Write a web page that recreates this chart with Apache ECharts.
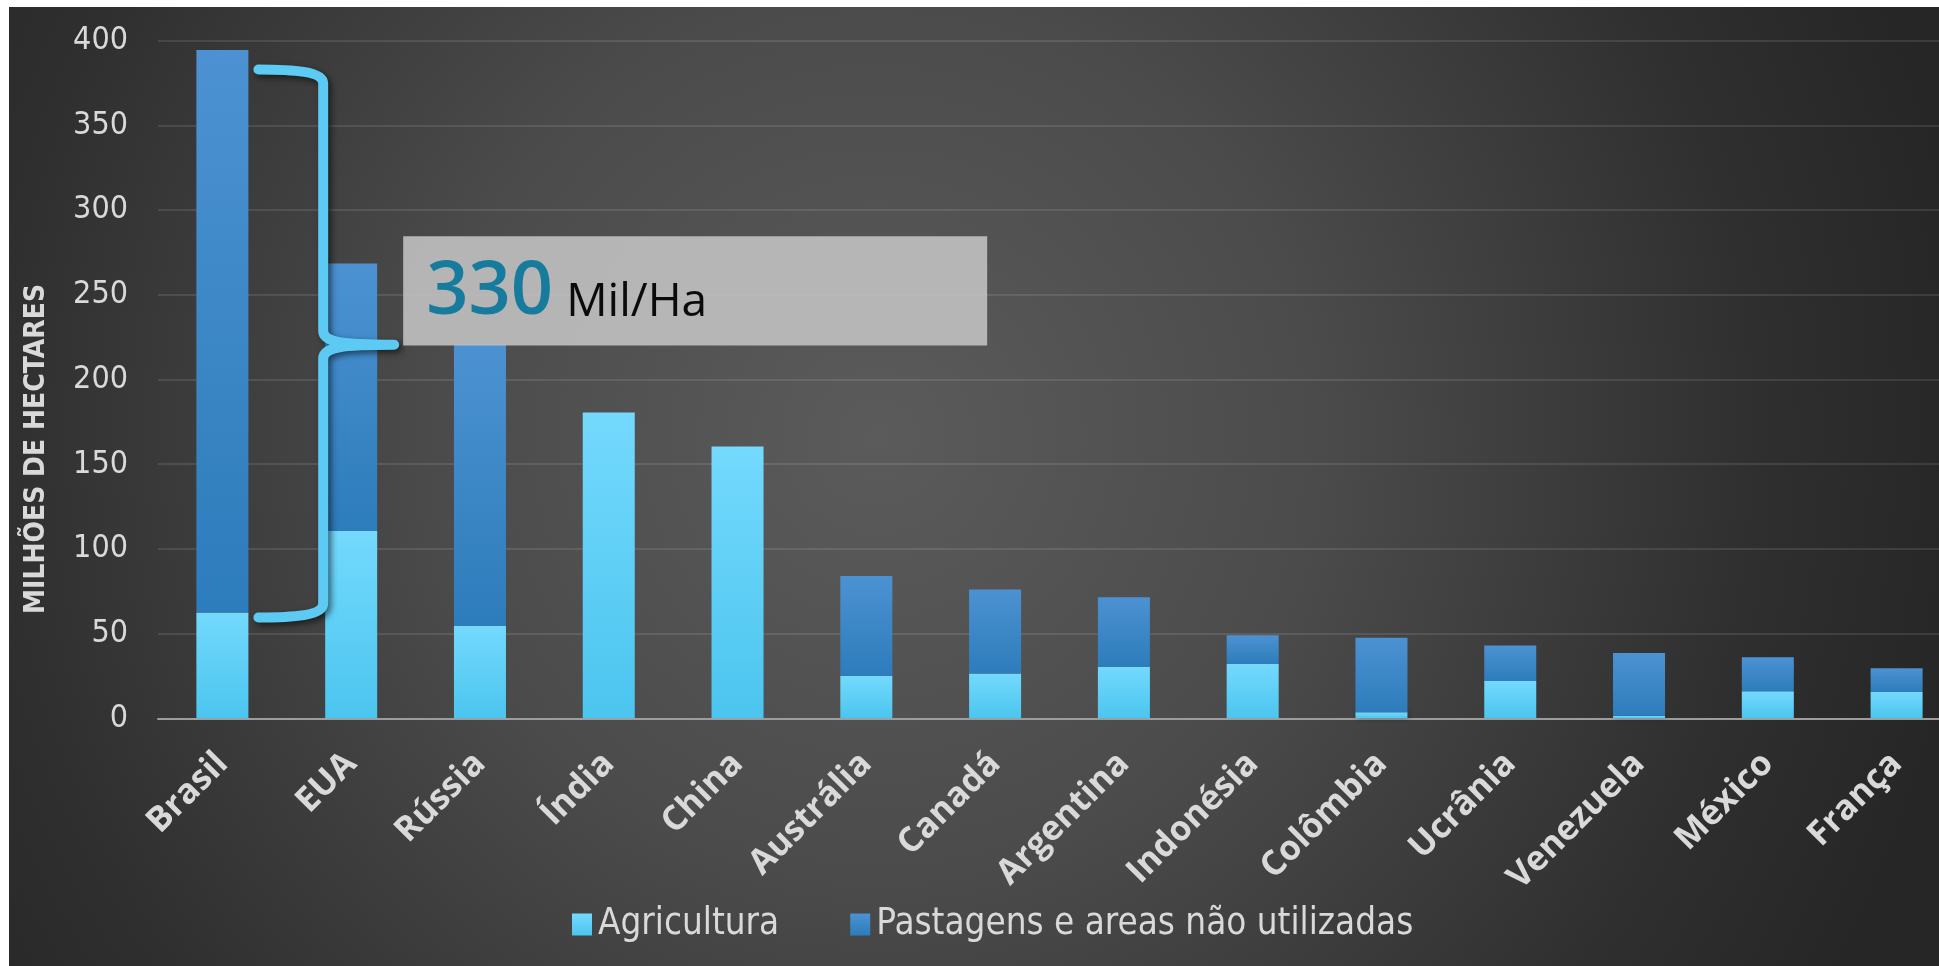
<!DOCTYPE html>
<html>
<head>
<meta charset="utf-8">
<script src="https://cdn.jsdelivr.net/npm/echarts@6/dist/echarts.min.js"></script>
<style>
  html, body { margin: 0; padding: 0; background: #fff; }
  #main { width: 1939px; height: 966px; }
</style>
</head>
<body>
<div id="main"></div>
<script>
// data (millions of hectares)
var categories = ['Brasil', 'EUA', 'Rússia', 'Índia', 'China', 'Austrália', 'Canadá',
  'Argentina', 'Indonésia', 'Colômbia', 'Ucrânia', 'Venezuela', 'México', 'França']
var agricultura = [62.5, 110.5, 54.5, 180.5, 160.5, 25, 26.5, 30.5, 32, 3.5, 22, 1.5, 16, 15.5]
var pastagens = [332, 158, 166, 0, 0, 59, 49.5, 41, 17, 44, 21, 37, 20, 14]
var seriesNames = ['Agricultura', 'Pastagens e areas não utilizadas']
var yTicks = [0, 50, 100, 150, 200, 250, 300, 350, 400]

var narrow = '"Liberation Sans Narrow", "DejaVu Sans Condensed", "Open Sans", sans-serif'
var textGrey = '#d9d9d9'

// curly brace shape for the annotation
var Brace = echarts.graphic.extendShape({
  shape: { tip: 0, v: 0, pt: 0, top: 0, mid: 0, bot: 0 },
  buildPath: function(ctx, s) {
    ctx.moveTo(s.tip, s.top)
    ctx.bezierCurveTo(s.v - 30, s.top, s.v, s.top + 2, s.v, s.top + 14)
    ctx.lineTo(s.v, s.mid - 14)
    ctx.bezierCurveTo(s.v, s.mid - 2, s.v + 20, s.mid, s.pt, s.mid)
    ctx.bezierCurveTo(s.v + 20, s.mid, s.v, s.mid + 2, s.v, s.mid + 14)
    ctx.lineTo(s.v, s.bot - 14)
    ctx.bezierCurveTo(s.v, s.bot - 2, s.v - 30, s.bot, s.tip, s.bot)
  }
})
echarts.graphic.registerShape('brace', Brace)

var chart = echarts.init(document.getElementById('main'))

var agriColor = new echarts.graphic.LinearGradient(0, 0, 0, 1, [
  { offset: 0, color: '#74d9fd' },
  { offset: 1, color: '#4bc5ef' }
])
var pastColor = new echarts.graphic.LinearGradient(0, 0, 0, 1, [
  { offset: 0, color: '#4c92d2' },
  { offset: 1, color: '#2d7cbb' }
])

var option = {
  animation: false,
  backgroundColor: '#ffffff',
  grid: {
    left: 158,
    width: 1803,
    top: 40.7,
    bottom: 247.7,
    outerBoundsMode: 'none',
    containLabel: false
  },
  legend: {
    data: seriesNames,
    left: 572,
    top: 906,
    padding: 0,
    itemWidth: 20,
    itemHeight: 22,
    itemGap: 71,
    icon: 'rect',
    textStyle: {
      color: textGrey,
      fontSize: 36.5,
      lineHeight: 36,
      fontFamily: narrow,
      padding: [0, 0, 0, 1]
    }
  },
  xAxis: {
    type: 'category',
    data: categories,
    axisTick: { show: false },
    axisLine: {
      lineStyle: { color: '#9d9d9d', width: 2 }
    },
    axisLabel: {
      interval: 0,
      rotate: 45,
      margin: 40,
      color: textGrey,
      fontSize: 34.5,
      fontWeight: 'bold',
      fontFamily: '"Open Sans", sans-serif'
    }
  },
  yAxis: {
    type: 'value',
    min: yTicks[0],
    max: yTicks[yTicks.length - 1],
    interval: 50,
    axisTick: { show: false },
    axisLine: { show: false },
    axisLabel: {
      margin: 30,
      color: textGrey,
      fontSize: 32,
      fontFamily: narrow
    },
    splitLine: {
      lineStyle: { color: 'rgba(255,255,255,0.1)', width: 2 }
    }
  },
  series: [{
    name: seriesNames[0],
    type: 'bar',
    stack: 'total',
    barWidth: 52,
    data: agricultura,
    itemStyle: {
      color: agriColor,
      shadowBlur: 6,
      shadowOffsetX: 2,
      shadowColor: 'rgba(0,0,0,0.35)'
    }
  }, {
    name: seriesNames[1],
    type: 'bar',
    stack: 'total',
    barWidth: 52,
    data: pastagens,
    itemStyle: {
      color: pastColor,
      shadowBlur: 6,
      shadowOffsetX: 2,
      shadowColor: 'rgba(0,0,0,0.35)'
    }
  }],
  graphic: [{
    id: 'panel',
    type: 'rect',
    z: -100,
    silent: true,
    shape: { x: 9, y: 7, width: 1930, height: 959 },
    style: {
      fill: new echarts.graphic.RadialGradient(0.45, 0.45, 1.15, [
        { offset: 0, color: '#5b5b5b' },
        { offset: 0.4, color: '#4b4b4b' },
        { offset: 0.8, color: '#2f2f2f' },
        { offset: 1, color: '#262626' }
      ])
    }
  }, {
    id: 'yname',
    type: 'text',
    x: 37,
    y: 449,
    rotation: Math.PI / 2,
    style: {
      text: 'MILHÕES DE HECTARES',
      fill: textGrey,
      font: 'bold 28px ' + narrow,
      align: 'center',
      verticalAlign: 'middle'
    }
  }]
}
chart.setOption(option)

// brace + callout box placed from the axes
var yPx = function(v) { return chart.convertToPixel({ yAxisIndex: 0 }, v) }
var xPx = function(c) { return chart.convertToPixel({ xAxisIndex: 0 }, c) }

var bPt = xPx('EUA') + 43
var boxTop = yPx(284.5)
var boxBot = yPx(220)

chart.setOption({
  graphic: [{
    id: 'brace',
    type: 'brace',
    z: 100,
    silent: true,
    shape: {
      tip: xPx('Brasil') + 36,
      v: xPx('EUA') - 28,
      pt: bPt,
      top: yPx(383),
      mid: yPx(220.5),
      bot: yPx(59.5)
    },
    style: {
      fill: null,
      stroke: '#5ccaf3',
      lineWidth: 10,
      lineCap: 'round',
      lineJoin: 'round',
      shadowBlur: 6,
      shadowOffsetX: 3,
      shadowOffsetY: 3,
      shadowColor: 'rgba(0,0,0,0.55)'
    }
  }, {
    id: 'box',
    type: 'rect',
    z: 100,
    silent: true,
    shape: { x: bPt + 9, y: boxTop, width: 584, height: boxBot - boxTop },
    style: { fill: 'rgba(196,196,196,0.88)' }
  }, {
    id: 'big',
    type: 'text',
    z: 101,
    x: bPt + 32,
    y: (boxTop + boxBot) / 2 + 2,
    style: {
      text: '330',
      fill: '#167b9c',
      font: '600 74px "Open Sans", sans-serif',
      align: 'left',
      verticalAlign: 'middle'
    }
  }, {
    id: 'unit',
    type: 'text',
    z: 101,
    x: bPt + 172,
    y: (boxTop + boxBot) / 2 + 12,
    style: {
      text: 'Mil/Ha',
      fill: '#0b0b0b',
      font: '46px "Open Sans", sans-serif',
      align: 'left',
      verticalAlign: 'middle'
    }
  }]
})
</script>
</body>
</html>
